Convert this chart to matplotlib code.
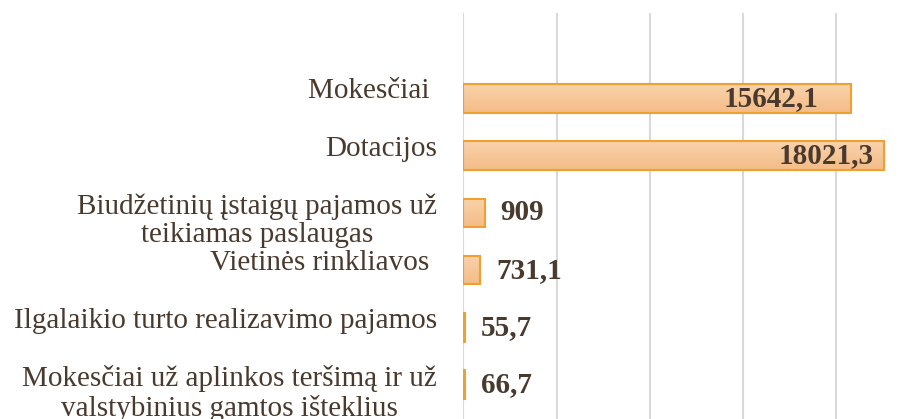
import numpy as np
import matplotlib
matplotlib.use('Agg')
import matplotlib.pyplot as plt
from matplotlib.colors import LinearSegmentedColormap

categories = ['Mokesčiai ', 'Dotacijos', 'Biudžetinių įstaigų pajamos už\nteikiamas paslaugas',
              'Vietinės rinkliavos ', 'Ilgalaikio turto realizavimo pajamos',
              'Mokesčiai už aplinkos teršimą ir už\nvalstybinius gamtos išteklius']
values = [15642.1, 18021.3, 909, 731.1, 55.7, 66.7]
# bar lengths as drawn in the picture (the first bar is drawn longer than its label)
bar_lengths = [16630, 18021.3, 909, 731.1, 55.7, 66.7]
value_labels = ['15642,1', '18021,3', '909', '731,1', '55,7', '66,7']

text_color = '#4a3a2e'
plt.rcParams['font.family'] = ['Liberation Serif', 'DejaVu Serif']

fig = plt.figure(figsize=(9.15, 4.19), dpi=100)
ax = fig.add_axes([463.3 / 915, -51 / 419, (915 - 463.3) / 915, 457 / 419])

y = np.arange(len(categories))
bars = ax.barh(y, bar_lengths, height=0.5, color='none', edgecolor='#f0a030', linewidth=1.5, zorder=3)

grad = LinearSegmentedColormap.from_list('g', ['#f9d2ab', '#f4bc87'])
for b in bars:
    x0, y0 = b.get_x(), b.get_y()
    w, h = b.get_width(), b.get_height()
    im = ax.imshow(np.linspace(0, 1, 50).reshape(-1, 1), cmap=grad, aspect='auto',
                   extent=[x0, x0 + w, y0, y0 + h], origin='lower', zorder=2)
    im.set_clip_path(b)

ax.set_xlim(0, 19366)
ax.set_ylim(len(categories) + 0.49, -1.49)
ax.set_xticks([0, 4000, 8000, 12000, 16000])
ax.xaxis.grid(True, color='#d9d9d9', linewidth=1.5, zorder=0)
ax.set_axisbelow(True)
ax.tick_params(length=0, labelbottom=False, labelleft=False)
for s in ax.spines.values():
    s.set_visible(False)

for i, cat in enumerate(categories):
    ax.annotate(cat, xy=(0, i), xycoords=ax.get_yaxis_transform(),
                xytext=(-19, 14.3), textcoords='offset points',
                ha='right', va='top', multialignment='center',
                fontsize=21, color=text_color, linespacing=1.13)

for i, (v, lab) in enumerate(zip(values, value_labels)):
    if v > 5000:
        ax.annotate(lab, xy=(v, i), xytext=(-7, 0), textcoords='offset points',
                    ha='right', va='center', fontsize=21, fontweight='bold', color=text_color)
    else:
        ax.annotate(lab, xy=(v, i), xytext=(11.5, 0), textcoords='offset points',
                    ha='left', va='center', fontsize=21, fontweight='bold', color=text_color)

fig.savefig('out.png', dpi=100)
